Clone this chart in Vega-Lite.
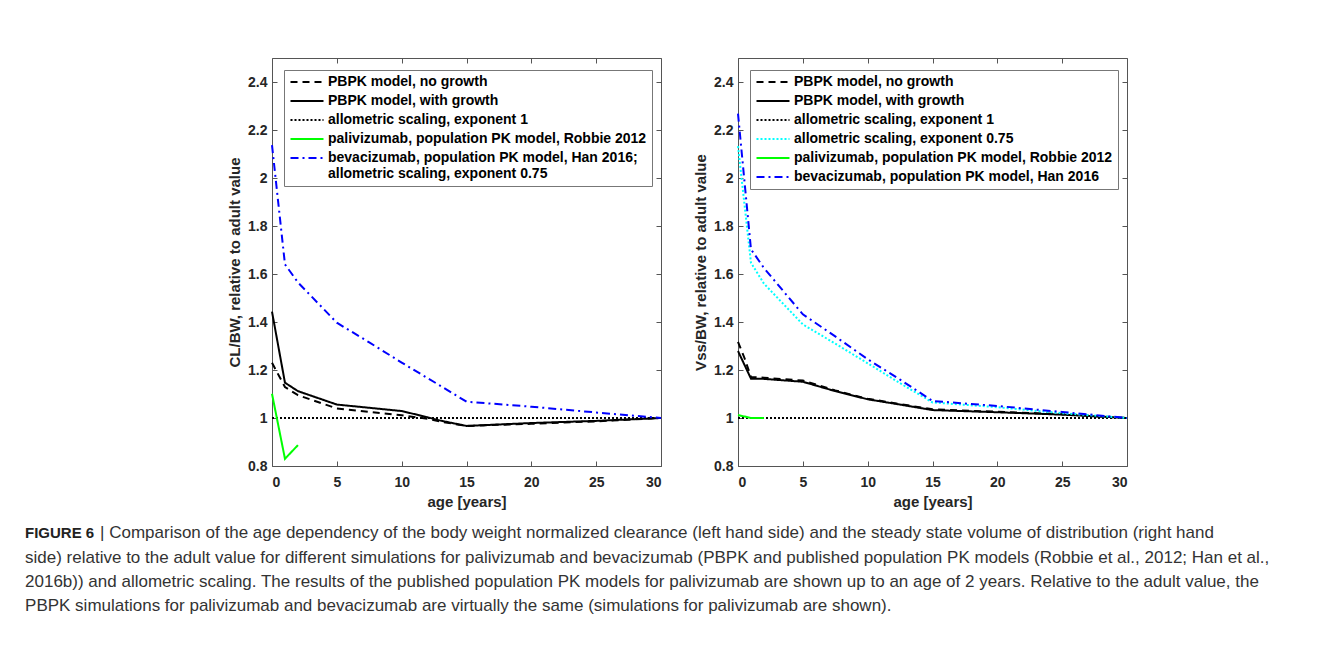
{
  "$schema": "https://vega.github.io/schema/vega-lite/v6.json",
  "background": "white",
  "padding": {"left": 25, "top": 57, "right": 5, "bottom": 5},
  "config": {
    "font": "Liberation Sans",
    "view": {"stroke": "#555", "strokeWidth": 1},
    "axis": {
      "grid": false, "domain": false,
      "labelFont": "Liberation Sans", "labelFontWeight": "bold", "labelFontSize": 14, "labelColor": "#262626",
      "titleFont": "Liberation Sans", "titleFontWeight": "bold", "titleFontSize": 15, "titleColor": "#262626",
      "tickColor": "#555", "tickSize": -5
    },
    "axisX": {"labelPadding": 14, "titlePadding": 5},
    "axisY": {"labelPadding": 10, "titlePadding": 5},
    "legend": {
      "orient": "top-left", "offset": 12, "padding": 5,
      "strokeColor": "#777", "fillColor": "white",
      "labelFont": "Liberation Sans", "labelFontSize": 14, "labelFontWeight": "bold", "labelColor": "#000",
      "labelLimit": 0, "symbolType": "M-1,0H5", "symbolSize": 121, "symbolStrokeWidth": 2,
      "labelOffset": 25, "rowPadding": 5
    }
  },
  "datasets": {
    "left": [
      {"series": "PBPK model, no growth", "age": 0, "value": 1.23},
      {"series": "PBPK model, no growth", "age": 1, "value": 1.129},
      {"series": "PBPK model, no growth", "age": 2, "value": 1.095},
      {"series": "PBPK model, no growth", "age": 5, "value": 1.04},
      {"series": "PBPK model, no growth", "age": 10, "value": 1.011},
      {"series": "PBPK model, no growth", "age": 12, "value": 0.997},
      {"series": "PBPK model, no growth", "age": 13, "value": 0.985},
      {"series": "PBPK model, no growth", "age": 15, "value": 0.967},
      {"series": "PBPK model, no growth", "age": 20, "value": 0.976},
      {"series": "PBPK model, no growth", "age": 25, "value": 0.986},
      {"series": "PBPK model, no growth", "age": 30, "value": 1.0},
      {"series": "PBPK model, with growth", "age": 0, "value": 1.443},
      {"series": "PBPK model, with growth", "age": 1, "value": 1.147},
      {"series": "PBPK model, with growth", "age": 2, "value": 1.112},
      {"series": "PBPK model, with growth", "age": 5, "value": 1.056},
      {"series": "PBPK model, with growth", "age": 10, "value": 1.029},
      {"series": "PBPK model, with growth", "age": 12, "value": 1.003},
      {"series": "PBPK model, with growth", "age": 13, "value": 0.989},
      {"series": "PBPK model, with growth", "age": 15, "value": 0.967},
      {"series": "PBPK model, with growth", "age": 20, "value": 0.979},
      {"series": "PBPK model, with growth", "age": 25, "value": 0.988},
      {"series": "PBPK model, with growth", "age": 30, "value": 1.0},
      {"series": "allometric scaling, exponent 1", "age": 0, "value": 1.0},
      {"series": "allometric scaling, exponent 1", "age": 30, "value": 1.0},
      {"series": "palivizumab, population PK model, Robbie 2012", "age": 0, "value": 1.101},
      {"series": "palivizumab, population PK model, Robbie 2012", "age": 1, "value": 0.83},
      {"series": "palivizumab, population PK model, Robbie 2012", "age": 2, "value": 0.887},
      {"series": "bevacizumab, population PK model, Han 2016;|allometric scaling, exponent 0.75", "age": 0, "value": 2.137},
      {"series": "bevacizumab, population PK model, Han 2016;|allometric scaling, exponent 0.75", "age": 1, "value": 1.64},
      {"series": "bevacizumab, population PK model, Han 2016;|allometric scaling, exponent 0.75", "age": 2, "value": 1.565},
      {"series": "bevacizumab, population PK model, Han 2016;|allometric scaling, exponent 0.75", "age": 5, "value": 1.397},
      {"series": "bevacizumab, population PK model, Han 2016;|allometric scaling, exponent 0.75", "age": 7.5, "value": 1.315},
      {"series": "bevacizumab, population PK model, Han 2016;|allometric scaling, exponent 0.75", "age": 10, "value": 1.231},
      {"series": "bevacizumab, population PK model, Han 2016;|allometric scaling, exponent 0.75", "age": 12.5, "value": 1.15},
      {"series": "bevacizumab, population PK model, Han 2016;|allometric scaling, exponent 0.75", "age": 15, "value": 1.068},
      {"series": "bevacizumab, population PK model, Han 2016;|allometric scaling, exponent 0.75", "age": 20, "value": 1.047},
      {"series": "bevacizumab, population PK model, Han 2016;|allometric scaling, exponent 0.75", "age": 25, "value": 1.023},
      {"series": "bevacizumab, population PK model, Han 2016;|allometric scaling, exponent 0.75", "age": 30, "value": 1.0}
    ],
    "right": [
      {"series": "PBPK model, no growth", "age": 0, "value": 1.317},
      {"series": "PBPK model, no growth", "age": 0.5, "value": 1.25},
      {"series": "PBPK model, no growth", "age": 1, "value": 1.171},
      {"series": "PBPK model, no growth", "age": 2, "value": 1.168},
      {"series": "PBPK model, no growth", "age": 5, "value": 1.156},
      {"series": "PBPK model, no growth", "age": 7.5, "value": 1.115},
      {"series": "PBPK model, no growth", "age": 10, "value": 1.08},
      {"series": "PBPK model, no growth", "age": 12.5, "value": 1.058},
      {"series": "PBPK model, no growth", "age": 15, "value": 1.036},
      {"series": "PBPK model, no growth", "age": 20, "value": 1.026},
      {"series": "PBPK model, no growth", "age": 25, "value": 1.016},
      {"series": "PBPK model, no growth", "age": 30, "value": 1.0},
      {"series": "PBPK model, with growth", "age": 0, "value": 1.279},
      {"series": "PBPK model, with growth", "age": 1, "value": 1.164},
      {"series": "PBPK model, with growth", "age": 2, "value": 1.163},
      {"series": "PBPK model, with growth", "age": 5, "value": 1.151},
      {"series": "PBPK model, with growth", "age": 7.5, "value": 1.112},
      {"series": "PBPK model, with growth", "age": 10, "value": 1.078},
      {"series": "PBPK model, with growth", "age": 12.5, "value": 1.056},
      {"series": "PBPK model, with growth", "age": 15, "value": 1.033},
      {"series": "PBPK model, with growth", "age": 20, "value": 1.024},
      {"series": "PBPK model, with growth", "age": 25, "value": 1.014},
      {"series": "PBPK model, with growth", "age": 30, "value": 1.0},
      {"series": "allometric scaling, exponent 1", "age": 0, "value": 1.0},
      {"series": "allometric scaling, exponent 1", "age": 30, "value": 1.0},
      {"series": "allometric scaling, exponent 0.75", "age": 0, "value": 2.133},
      {"series": "allometric scaling, exponent 0.75", "age": 1, "value": 1.647},
      {"series": "allometric scaling, exponent 0.75", "age": 2, "value": 1.56},
      {"series": "allometric scaling, exponent 0.75", "age": 5, "value": 1.39},
      {"series": "allometric scaling, exponent 0.75", "age": 7.5, "value": 1.31},
      {"series": "allometric scaling, exponent 0.75", "age": 10, "value": 1.228},
      {"series": "allometric scaling, exponent 0.75", "age": 12.5, "value": 1.145},
      {"series": "allometric scaling, exponent 0.75", "age": 15, "value": 1.065},
      {"series": "allometric scaling, exponent 0.75", "age": 20, "value": 1.045},
      {"series": "allometric scaling, exponent 0.75", "age": 25, "value": 1.02},
      {"series": "allometric scaling, exponent 0.75", "age": 30, "value": 1.0},
      {"series": "palivizumab, population PK model, Robbie 2012", "age": 0, "value": 1.0125},
      {"series": "palivizumab, population PK model, Robbie 2012", "age": 1, "value": 1.0},
      {"series": "palivizumab, population PK model, Robbie 2012", "age": 2, "value": 1.0},
      {"series": "bevacizumab, population PK model, Han 2016", "age": 0, "value": 2.268},
      {"series": "bevacizumab, population PK model, Han 2016", "age": 1, "value": 1.703},
      {"series": "bevacizumab, population PK model, Han 2016", "age": 2, "value": 1.625},
      {"series": "bevacizumab, population PK model, Han 2016", "age": 5, "value": 1.432},
      {"series": "bevacizumab, population PK model, Han 2016", "age": 7.5, "value": 1.34},
      {"series": "bevacizumab, population PK model, Han 2016", "age": 10, "value": 1.245},
      {"series": "bevacizumab, population PK model, Han 2016", "age": 12.5, "value": 1.16},
      {"series": "bevacizumab, population PK model, Han 2016", "age": 15, "value": 1.071},
      {"series": "bevacizumab, population PK model, Han 2016", "age": 20, "value": 1.05},
      {"series": "bevacizumab, population PK model, Han 2016", "age": 25, "value": 1.025},
      {"series": "bevacizumab, population PK model, Han 2016", "age": 30, "value": 1.0}
    ]
  },
  "title": {"text": "FIGURE 6", "orient": "bottom", "anchor": "start", "font": "Liberation Sans", "fontSize": 15, "fontWeight": "bold", "color": "#222", "dy": -88, "offset": 0},
  "vconcat": [
    {
      "title": {"text": "| Comparison of the age dependency of the body weight normalized clearance (left hand side) and the steady state volume of distribution (right hand", "orient": "bottom", "anchor": "start", "font": "Liberation Sans", "fontSize": 17, "fontWeight": "normal", "color": "#333", "dy": -89, "dx": 75, "offset": 0},
      "vconcat": [
        {
          "title": {
            "text": [
              "side) relative to the adult value for different simulations for palivizumab and bevacizumab (PBPK and published population PK models (Robbie et al., 2012; Han et al.,",
              "2016b)) and allometric scaling. The results of the published population PK models for palivizumab are shown up to an age of 2 years. Relative to the adult value, the",
              "PBPK simulations for palivizumab and bevacizumab are virtually the same (simulations for palivizumab are shown)."
            ],
            "orient": "bottom", "anchor": "start", "font": "Liberation Sans", "fontSize": 17, "fontWeight": "normal", "color": "#333", "lineHeight": 24, "offset": 40, "dx": -202
          },
          "spacing": 27,
          "resolve": {"scale": {"color": "independent", "strokeDash": "independent"}, "legend": {"color": "independent", "strokeDash": "independent"}},
          "hconcat": [
            {
              "width": 389, "height": 408,
              "data": {"name": "left"},
              "resolve": {"axis": {"x": "independent", "y": "independent"}},
              "layer": [
                {
                  "mark": {"type": "line", "strokeWidth": 2},
                  "encoding": {
                    "x": {"field": "age", "type": "quantitative", "scale": {"domain": [0, 30], "nice": false}, "axis": {"title": "age [years]", "values": [0, 5, 10, 15, 20, 25, 30]}},
                    "y": {"field": "value", "type": "quantitative", "scale": {"domain": [0.8, 2.5], "nice": false, "zero": false}, "axis": {"title": "CL/BW, relative to adult value", "values": [0.8, 1.0, 1.2, 1.4, 1.6, 1.8, 2.0, 2.2, 2.4], "format": ".1~f"}},
                    "color": {"field": "series", "type": "nominal",
                      "scale": {"domain": ["PBPK model, no growth", "PBPK model, with growth", "allometric scaling, exponent 1", "palivizumab, population PK model, Robbie 2012", "bevacizumab, population PK model, Han 2016;|allometric scaling, exponent 0.75"],
                        "range": ["#000000", "#000000", "#000000", "#00ff00", "#0000ff"]},
                      "legend": {"title": null, "labelExpr": "split(datum.label, '|')"}},
                    "strokeDash": {"field": "series", "type": "nominal",
                      "scale": {"domain": ["PBPK model, no growth", "PBPK model, with growth", "allometric scaling, exponent 1", "palivizumab, population PK model, Robbie 2012", "bevacizumab, population PK model, Han 2016;|allometric scaling, exponent 0.75"],
                        "range": [[7, 5], [1, 0], [2, 2], [1, 0], [8, 4, 2, 4]]},
                      "legend": {"title": null, "labelExpr": "split(datum.label, '|')"}}
                  }
                },
                {
                  "mark": {"type": "point", "opacity": 0},
                  "encoding": {
                    "x": {"field": "age", "type": "quantitative", "axis": {"orient": "top", "labels": false, "title": null, "values": [0, 5, 10, 15, 20, 25, 30]}},
                    "y": {"field": "value", "type": "quantitative", "axis": {"orient": "right", "labels": false, "title": null, "values": [0.8, 1.0, 1.2, 1.4, 1.6, 1.8, 2.0, 2.2, 2.4]}}
                  }
                }
              ]
            },
            {
              "width": 389, "height": 408,
              "data": {"name": "right"},
              "resolve": {"axis": {"x": "independent", "y": "independent"}},
              "layer": [
                {
                  "mark": {"type": "line", "strokeWidth": 2},
                  "encoding": {
                    "x": {"field": "age", "type": "quantitative", "scale": {"domain": [0, 30], "nice": false}, "axis": {"title": "age [years]", "values": [0, 5, 10, 15, 20, 25, 30]}},
                    "y": {"field": "value", "type": "quantitative", "scale": {"domain": [0.8, 2.5], "nice": false, "zero": false}, "axis": {"title": "Vss/BW, relative to adult value", "values": [0.8, 1.0, 1.2, 1.4, 1.6, 1.8, 2.0, 2.2, 2.4], "format": ".1~f"}},
                    "color": {"field": "series", "type": "nominal",
                      "scale": {"domain": ["PBPK model, no growth", "PBPK model, with growth", "allometric scaling, exponent 1", "allometric scaling, exponent 0.75", "palivizumab, population PK model, Robbie 2012", "bevacizumab, population PK model, Han 2016"],
                        "range": ["#000000", "#000000", "#000000", "#00ffff", "#00ff00", "#0000ff"]},
                      "legend": {"title": null}},
                    "strokeDash": {"field": "series", "type": "nominal",
                      "scale": {"domain": ["PBPK model, no growth", "PBPK model, with growth", "allometric scaling, exponent 1", "allometric scaling, exponent 0.75", "palivizumab, population PK model, Robbie 2012", "bevacizumab, population PK model, Han 2016"],
                        "range": [[7, 5], [1, 0], [2, 2], [2, 2], [1, 0], [8, 4, 2, 4]]},
                      "legend": {"title": null}}
                  }
                },
                {
                  "mark": {"type": "point", "opacity": 0},
                  "encoding": {
                    "x": {"field": "age", "type": "quantitative", "axis": {"orient": "top", "labels": false, "title": null, "values": [0, 5, 10, 15, 20, 25, 30]}},
                    "y": {"field": "value", "type": "quantitative", "axis": {"orient": "right", "labels": false, "title": null, "values": [0.8, 1.0, 1.2, 1.4, 1.6, 1.8, 2.0, 2.2, 2.4]}}
                  }
                }
              ]
            }
          ]
        }
      ]
    }
  ]
}
